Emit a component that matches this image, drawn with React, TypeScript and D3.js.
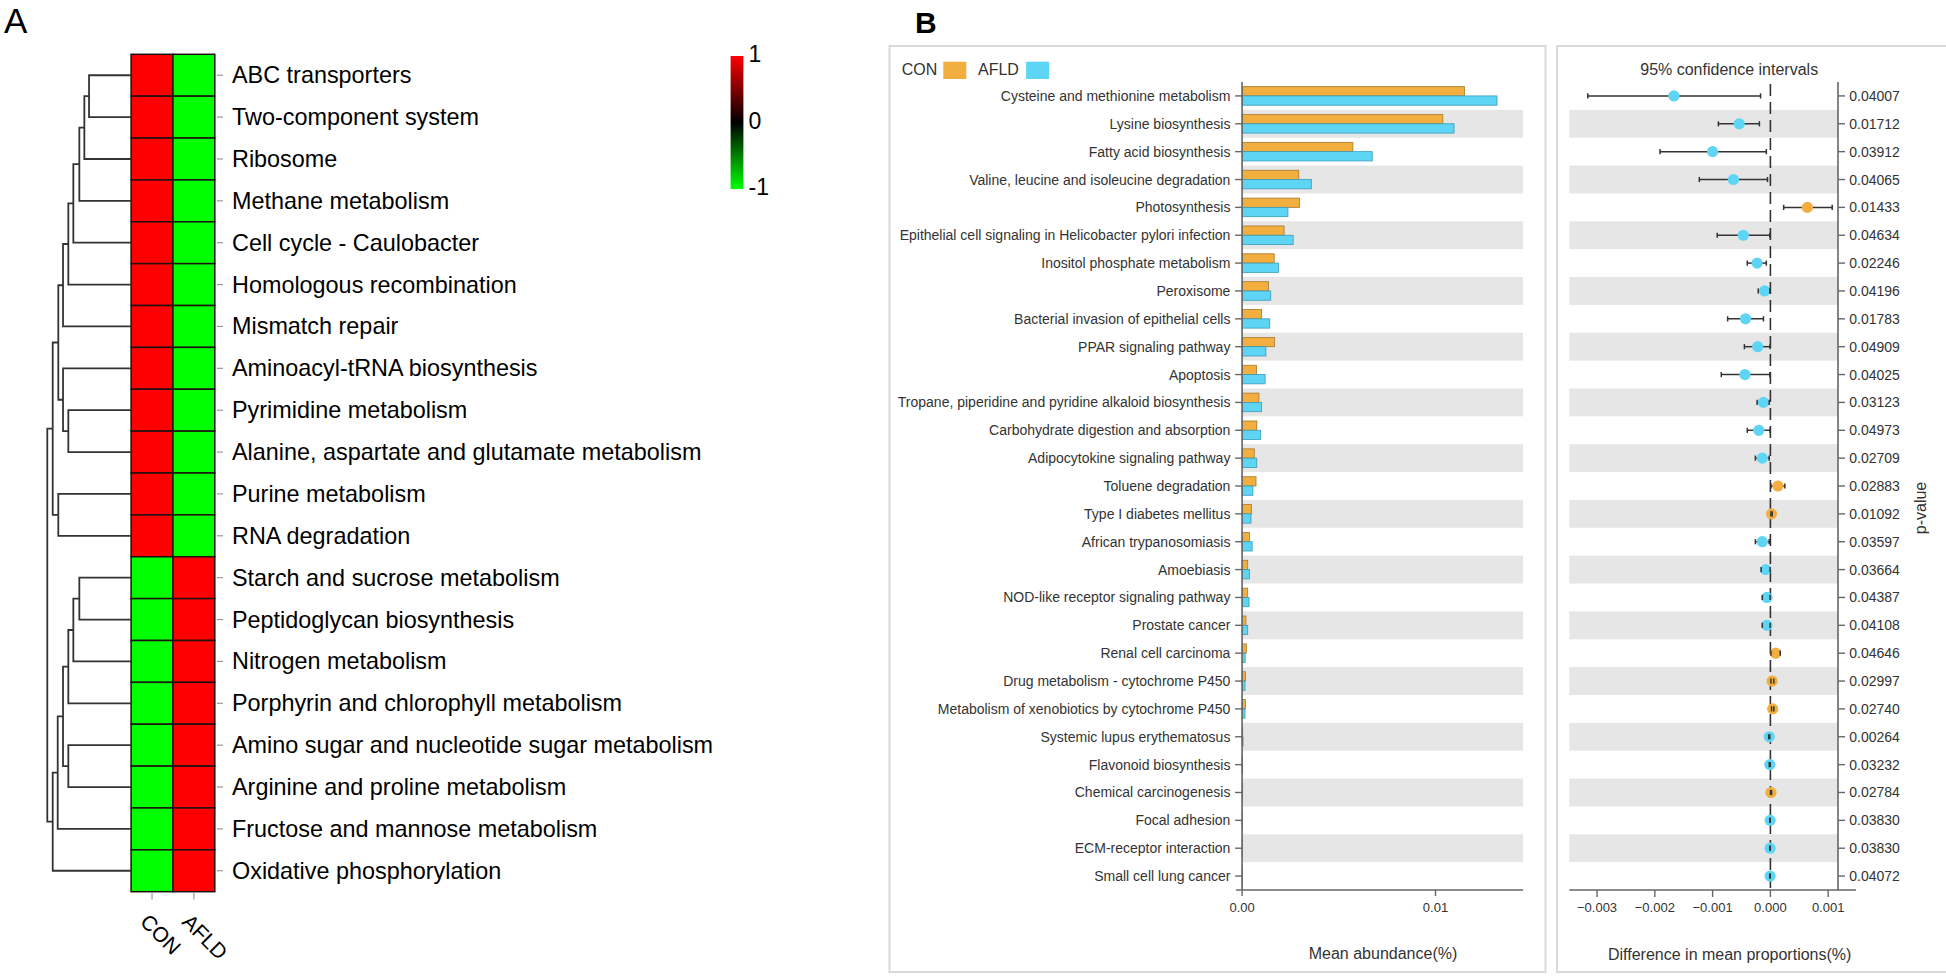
import React from 'react';
import * as d3 from 'd3';

// ---------------- Panel A data ----------------
const heatRows = [
  'ABC transporters', 'Two-component system', 'Ribosome', 'Methane metabolism',
  'Cell cycle - Caulobacter', 'Homologous recombination', 'Mismatch repair',
  'Aminoacyl-tRNA biosynthesis', 'Pyrimidine metabolism',
  'Alanine, aspartate and glutamate metabolism', 'Purine metabolism', 'RNA degradation',
  'Starch and sucrose metabolism', 'Peptidoglycan biosynthesis', 'Nitrogen metabolism',
  'Porphyrin and chlorophyll metabolism', 'Amino sugar and nucleotide sugar metabolism',
  'Arginine and proline metabolism', 'Fructose and mannose metabolism', 'Oxidative phosphorylation',
];
const heatCols = ['CON', 'AFLD'];
const heatCON = [1, 1, 1, 1, 1, 1, 1, 1, 1, 1, 1, 1, -1, -1, -1, -1, -1, -1, -1, -1];
const heatAFLD = [-1, -1, -1, -1, -1, -1, -1, -1, -1, -1, -1, -1, 1, 1, 1, 1, 1, 1, 1, 1];
const colorTicks = [1, 0, -1];
// hclust-style merges: negative = leaf (1-based), positive = earlier merge (1-based), height
const dendroMerges: [number, number, number][] = [
  [-1, -2, 42], [1, -3, 46.7], [2, -4, 51.7], [3, -5, 57.7], [4, -6, 62.7], [5, -7, 68],
  [-9, -10, 62.7], [-8, 7, 68], [6, 8, 72.7], [-11, -12, 72.7], [9, 10, 78.3],
  [-13, -14, 51.7], [12, -15, 57.7], [13, -16, 62.7], [-17, -18, 62.7], [14, 15, 68],
  [16, -19, 73.3], [17, -20, 78.3], [11, 18, 83.7],
];

// ---------------- Panel B data ----------------
const pathways = [
  'Cysteine and methionine metabolism', 'Lysine biosynthesis', 'Fatty acid biosynthesis',
  'Valine, leucine and isoleucine degradation', 'Photosynthesis',
  'Epithelial cell signaling in Helicobacter pylori infection', 'Inositol phosphate metabolism',
  'Peroxisome', 'Bacterial invasion of epithelial cells', 'PPAR signaling pathway', 'Apoptosis',
  'Tropane, piperidine and pyridine alkaloid biosynthesis', 'Carbohydrate digestion and absorption',
  'Adipocytokine signaling pathway', 'Toluene degradation', 'Type I diabetes mellitus',
  'African trypanosomiasis', 'Amoebiasis', 'NOD-like receptor signaling pathway', 'Prostate cancer',
  'Renal cell carcinoma', 'Drug metabolism - cytochrome P450',
  'Metabolism of xenobiotics by cytochrome P450', 'Systemic lupus erythematosus',
  'Flavonoid biosynthesis', 'Chemical carcinogenesis', 'Focal adhesion', 'ECM-receptor interaction',
  'Small cell lung cancer',
];
const conMean = [
  0.0115, 0.01038, 0.00573, 0.00293, 0.00297, 0.00217, 0.00166, 0.00136, 0.00101, 0.00168,
  0.00074, 0.00087, 0.00076, 0.00063, 0.00072, 0.00048, 0.00038, 0.00029, 0.00029, 0.0002,
  0.00022, 0.00018, 0.00018, 0.00003, 0.00002, 0.00003, 0.00001, 0.00001, 0.00001,
];
const afldMean = [
  0.01318, 0.01096, 0.00673, 0.00358, 0.00237, 0.00264, 0.00188, 0.00148, 0.00143, 0.00123,
  0.00119, 0.00101, 0.00096, 0.00076, 0.00056, 0.00046, 0.00052, 0.00038, 0.00036, 0.00029,
  0.00016, 0.00015, 0.00015, 0.00005, 0.00003, 0.00002, 0.00002, 0.00002, 0.00002,
];
const diffMean = [
  -0.00167, -0.00054, -0.001, -0.00064, 0.00064, -0.00047, -0.00023, -0.0001, -0.00043, -0.00022,
  -0.00044, -0.00012, -0.0002, -0.00014, 0.00013, 0.00002, -0.00014, -0.00008, -0.00006, -0.00006,
  0.00009, 0.00003, 0.00004, -0.00002, -0.00001, 0.00001, -0.000005, -0.000005, -0.000005,
];
const ciLow = [
  -0.00316, -0.0009, -0.00191, -0.00123, 0.00023, -0.00092, -0.0004, -0.00021, -0.00074, -0.00045,
  -0.00085, -0.00023, -0.0004, -0.00026, 0.00001, 0.00001, -0.00026, -0.00016, -0.00014, -0.00014,
  0.00001, 0.00001, 0.00002, -0.00003, -0.00002, 0.000002, -0.00001, -0.00001, -0.00001,
];
const ciHigh = [
  -0.00017, -0.00019, -0.00007, -0.00005, 0.00107, -0.00001, -0.00007, -0.00001, -0.00012, -0.000005,
  -0.00001, -0.00002, -0.000005, -0.00002, 0.00025, 0.00003, -0.00002, -0.000005, -0.000005, -0.000005,
  0.00017, 0.00006, 0.00006, -0.00001, -0.000002, 0.00002, -0.000002, -0.000002, -0.000002,
];
const pValues = [
  '0.04007', '0.01712', '0.03912', '0.04065', '0.01433', '0.04634', '0.02246', '0.04196', '0.01783',
  '0.04909', '0.04025', '0.03123', '0.04973', '0.02709', '0.02883', '0.01092', '0.03597', '0.03664',
  '0.04387', '0.04108', '0.04646', '0.02997', '0.02740', '0.00264', '0.03232', '0.02784', '0.03830',
  '0.03830', '0.04072',
];
const groups = ['CON', 'AFLD'];
const barTicks = [0, 0.01];
const ciTicks = [-0.003, -0.002, -0.001, 0, 0.001];

const FONT = "'Liberation Sans', Arial, Helvetica, sans-serif";
const ORANGE = '#F2AE3E';
const BLUE = '#5FD5F5';

export default function App() {
  const W = 1946;
  const H = 976;

  // ----- Panel A scales -----
  const hx = d3.scaleBand<string>().domain(heatCols).range([131.1, 214.8]);
  const hy = d3.scaleBand<string>().domain(heatRows).range([54.3, 891.7]);
  const heatColor = d3.scaleLinear<string>().domain([-1, 0, 1]).range(['#00ff00', '#000000', '#ff0000']);
  const dendX = d3.scaleLinear().domain([0, 83.7]).range([131.1, 47.3]);
  const cbY = d3.scaleLinear().domain([-1, 1]).range([189, 56]);

  const leafY = (i: number) => (hy(heatRows[i]) as number) + hy.bandwidth() / 2;
  const nodes: { x: number; y: number }[] = [];
  const dendPaths: string[] = [];
  dendroMerges.forEach(([a, b, h]) => {
    const get = (k: number) => (k < 0 ? { x: dendX(0), y: leafY(-k - 1) } : nodes[k - 1]);
    const A = get(a);
    const B = get(b);
    const xm = dendX(h);
    const p = d3.path();
    p.moveTo(A.x, A.y);
    p.lineTo(xm, A.y);
    p.lineTo(xm, B.y);
    p.lineTo(B.x, B.y);
    dendPaths.push(p.toString());
    nodes.push({ x: xm, y: (A.y + B.y) / 2 });
  });
  const heatVals = [heatCON, heatAFLD];

  // ----- Panel B scales -----
  const yB = d3.scaleBand<string>().domain(pathways).range([82, 890]).paddingInner(0).paddingOuter(0);
  const yInner = d3.scaleBand<string>().domain(groups).range([0, yB.bandwidth()]).paddingInner(0).paddingOuter(0.5);
  const xBar = d3.scaleLinear().domain([0, 0.01453]).range([1242.1, 1523.1]);
  const xCI = d3.scaleLinear().domain([-0.00348, 0.00117]).range([1569.3, 1838]);
  const rowC = (n: string) => (yB(n) as number) + yB.bandwidth() / 2;
  const fmt2 = d3.format('.2f');
  const fmt3 = d3.format('.3f');
  const tc = '#333';

  return (
    <svg width={W} height={H} style={{ position: 'absolute', left: 0, top: 0, background: '#fff' }} fontFamily={FONT}>
      <rect x={0} y={0} width={W} height={H} fill="#fff" />
      {/* ================= Panel A ================= */}
      <text x={4} y={33} fontSize={35} fill="#000">A</text>
      {heatCols.map((c, ci) =>
        heatRows.map((r, ri) => (
          <rect key={c + r} x={hx(c)} y={hy(r)} width={hx.bandwidth()} height={hy.bandwidth()}
            fill={heatColor(heatVals[ci][ri])} stroke="#1e1010" strokeWidth={1.5} />
        ))
      )}
      {dendPaths.map((d, i) => (
        <path key={i} d={d} fill="none" stroke="#333" strokeWidth={1.8} />
      ))}
      {heatRows.map((r, i) => (
        <g key={r}>
          <line x1={216.8} x2={223} y1={leafY(i)} y2={leafY(i)} stroke="#999" strokeWidth={1.2} />
          <text x={232} y={leafY(i)} dominantBaseline="central" fontSize={23.4} fill="#000">{r}</text>
        </g>
      ))}
      {heatCols.map((c) => {
        const cx = (hx(c) as number) + hx.bandwidth() / 2;
        return (
          <g key={c}>
            <line x1={cx} x2={cx} y1={892.7} y2={899.5} stroke="#999" strokeWidth={1.2} />
            <text transform={`translate(${cx - 13},923) rotate(45)`} fontSize={21} fill="#000">{c}</text>
          </g>
        );
      })}
      <defs>
        <linearGradient id="cbar" x1="0" y1="0" x2="0" y2="1">
          <stop offset="0%" stopColor={heatColor(1)} />
          <stop offset="50%" stopColor={heatColor(0)} />
          <stop offset="100%" stopColor={heatColor(-1)} />
        </linearGradient>
      </defs>
      <rect x={730.6} y={cbY(1)} width={12.8} height={cbY(-1) - cbY(1)} fill="url(#cbar)" />
      {colorTicks.map((t) => (
        <text key={t} x={748.5} y={cbY(t) - 2} dominantBaseline="central" fontSize={23} fill="#000">{t}</text>
      ))}

      {/* ================= Panel B ================= */}
      <text x={915} y={33} fontSize={30} fontWeight="bold" fill="#000">B</text>
      <rect x={889.5} y={46} width={656} height={926} fill="none" stroke="#dadada" strokeWidth={2} />
      <rect x={1557} y={46} width={400} height={926} fill="none" stroke="#dadada" strokeWidth={2} />

      {/* legend */}
      <text x={901.7} y={75} fontSize={16} fill={tc}>CON</text>
      <rect x={943.3} y={61.7} width={23} height={17.3} fill={ORANGE} />
      <text x={978} y={75} fontSize={16} fill={tc}>AFLD</text>
      <rect x={1026.1} y={61.7} width={23} height={17.3} fill={BLUE} />

      {/* bands */}
      {pathways.map((p, i) =>
        i % 2 === 1 ? (
          <g key={'band' + p}>
            <rect x={xBar(0)} y={yB(p)} width={xBar.range()[1] - xBar(0)} height={yB.bandwidth()} fill="#e6e6e6" />
            <rect x={xCI.range()[0]} y={yB(p)} width={xCI.range()[1] - xCI.range()[0]} height={yB.bandwidth()} fill="#e6e6e6" />
          </g>
        ) : null
      )}

      {/* bars */}
      {pathways.map((p, i) => (
        <g key={'bar' + p}>
          <rect x={xBar(0)} y={(yB(p) as number) + (yInner('CON') as number)} width={xBar(conMean[i]) - xBar(0)}
            height={yInner.bandwidth()} fill={ORANGE} stroke="#a8782c" strokeWidth={0.8} />
          <rect x={xBar(0)} y={(yB(p) as number) + (yInner('AFLD') as number)} width={xBar(afldMean[i]) - xBar(0)}
            height={yInner.bandwidth()} fill={BLUE} stroke="#3a9bb8" strokeWidth={0.8} />
        </g>
      ))}

      {/* bar y axis */}
      <line x1={xBar(0)} x2={xBar(0)} y1={82} y2={890} stroke="#666" strokeWidth={1.6} />
      {pathways.map((p) => (
        <g key={'lab' + p}>
          <line x1={xBar(0) - 7} x2={xBar(0)} y1={rowC(p)} y2={rowC(p)} stroke="#666" strokeWidth={1.4} />
          <text x={1230.4} y={rowC(p)} textAnchor="end" dominantBaseline="central" fontSize={14} fill={tc}>{p}</text>
        </g>
      ))}
      {/* bar x axis */}
      <line x1={xBar(0) - 6} x2={xBar.range()[1]} y1={890} y2={890} stroke="#666" strokeWidth={1.6} />
      {barTicks.map((t) => (
        <g key={'bt' + t}>
          <line x1={xBar(t)} x2={xBar(t)} y1={890} y2={896} stroke="#666" strokeWidth={1.4} />
          <text x={xBar(t)} y={911.5} textAnchor="middle" fontSize={13} fill={tc}>{fmt2(t)}</text>
        </g>
      ))}
      <text x={1383} y={959} textAnchor="middle" fontSize={16} fill={tc}>Mean abundance(%)</text>

      {/* CI panel */}
      <text x={1729.2} y={75} textAnchor="middle" fontSize={16} fill={tc}>95% confidence intervals</text>
      <line x1={xCI(0)} x2={xCI(0)} y1={84} y2={890} stroke="#333" strokeWidth={1.6} strokeDasharray="12,6" />
      {pathways.map((p, i) => {
        const y = rowC(p);
        const col = diffMean[i] > 0 ? ORANGE : BLUE;
        return (
          <g key={'ci' + p}>
            <line x1={xCI(ciLow[i])} x2={xCI(ciHigh[i])} y1={y} y2={y} stroke="#333" strokeWidth={1.5} />
            <circle cx={xCI(diffMean[i])} cy={y} r={5.6} fill={col} />
            <line x1={xCI(ciLow[i])} x2={xCI(ciLow[i])} y1={y - 2.6} y2={y + 2.6} stroke="#333" strokeWidth={1.5} />
            <line x1={xCI(ciHigh[i])} x2={xCI(ciHigh[i])} y1={y - 2.6} y2={y + 2.6} stroke="#333" strokeWidth={1.5} />
          </g>
        );
      })}
      <line x1={xCI.range()[1]} x2={xCI.range()[1]} y1={82} y2={890} stroke="#666" strokeWidth={1.6} />
      {pathways.map((p, i) => (
        <g key={'pv' + p}>
          <line x1={xCI.range()[1]} x2={xCI.range()[1] + 7} y1={rowC(p)} y2={rowC(p)} stroke="#666" strokeWidth={1.4} />
          <text x={1849.3} y={rowC(p)} dominantBaseline="central" fontSize={14} fill={tc}>{pValues[i]}</text>
        </g>
      ))}
      <line x1={xCI.range()[0]} x2={1856} y1={890} y2={890} stroke="#666" strokeWidth={1.6} />
      {ciTicks.map((t) => (
        <g key={'ct' + t}>
          <line x1={xCI(t)} x2={xCI(t)} y1={890} y2={897} stroke="#666" strokeWidth={1.4} />
          <text x={xCI(t)} y={911.5} textAnchor="middle" fontSize={13} fill={tc}>{fmt3(t)}</text>
        </g>
      ))}
      <text x={1729.7} y={959.5} textAnchor="middle" fontSize={16} fill={tc}>Difference in mean proportions(%)</text>
      <text transform="translate(1920,508) rotate(-90)" textAnchor="middle" dominantBaseline="central" fontSize={16} fill={tc}>p-value</text>
    </svg>
  );
}
